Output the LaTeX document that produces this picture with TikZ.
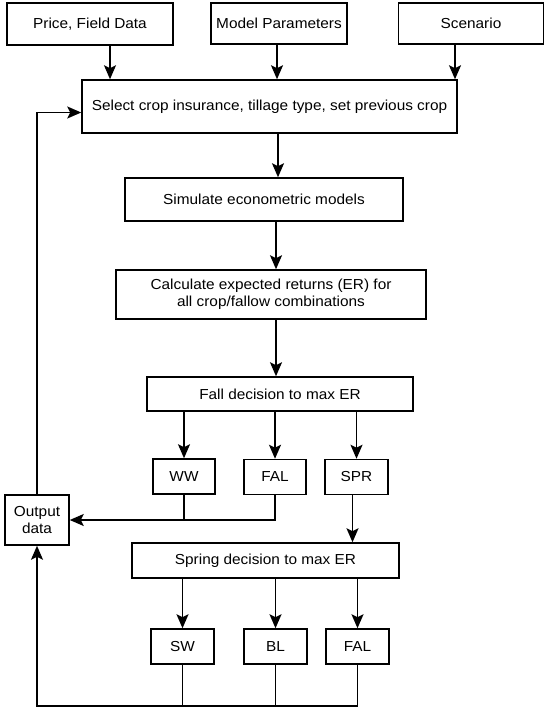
\documentclass[tikz,border=0pt]{standalone}
\usepackage{fontspec}
\setmainfont[FakeStretch=1.06]{Liberation Sans}
\usetikzlibrary{arrows.meta}

\begin{document}
\begin{tikzpicture}[x=1pt,y=-1pt,
    box/.style={draw, line width=1.5pt, inner sep=0pt, align=center, font=\fontsize{14.5}{17}\selectfont},
    arr/.style={line width=1.8pt, -{Stealth[length=14pt,width=12pt,inset=3pt]}},
    ln/.style={line width=1.4pt}]
    \useasboundingbox (0,0) rectangle (545,709);

    % inputs
    \node[box, minimum width=166pt, minimum height=42pt] (price) at (90,24) {Price, Field Data};
    \node[box, minimum width=136pt, minimum height=41pt] (model) at (279,23.5) {Model Parameters};
    \node[box, minimum width=145pt, minimum height=41pt] (scen) at (471,23.5) {Scenario};

    % main chain
    \node[box, minimum width=375pt, minimum height=53pt] (select) at (269.5,106.5) {Select crop insurance, tillage type, set previous crop};
    \node[box, minimum width=278pt, minimum height=43pt] (sim) at (264,199.5) {Simulate econometric models};
    \node[box, minimum width=310pt, minimum height=49pt] (calc) at (271,294.5) {Calculate expected returns (ER) for\\all crop/fallow combinations};
    \node[box, minimum width=266pt, minimum height=34pt] (fall) at (280,394) {Fall decision to max ER};

    \node[box, minimum width=62pt, minimum height=35pt] (ww) at (184,476.5) {WW};
    \node[box, minimum width=62pt, minimum height=35pt] (fal1) at (275,477) {FAL};
    \node[box, minimum width=63pt, minimum height=35pt] (spr) at (356.5,477) {SPR};

    \node[box, minimum width=64pt, minimum height=50pt] (out) at (37,520) {Output\\data};

    \node[box, minimum width=267pt, minimum height=35pt] (spring) at (265.5,560.5) {Spring decision to max ER};
    \node[box, minimum width=63pt, minimum height=35pt] (sw) at (182.5,646.5) {SW};
    \node[box, minimum width=63pt, minimum height=35pt] (bl) at (275.5,646.5) {BL};
    \node[box, minimum width=63pt, minimum height=35pt] (fal2) at (357.5,646.5) {FAL};

    \coordinate (bot) at (0,706);

    % arrows
    \draw[arr] ([xshift=20pt]price.south) -- ([xshift=20pt]price.south |- select.north);
    \draw[arr] ([xshift=-2pt]model.south) -- ([xshift=-2pt]model.south |- select.north);
    \draw[arr] ([xshift=-16pt]scen.south) -- ([xshift=-16pt]scen.south |- select.north);
    \draw[arr] ([xshift=8.5pt]select.south) -- ([xshift=8.5pt]select.south |- sim.north);
    \draw[arr] ([xshift=12pt]sim.south) -- ([xshift=12pt]sim.south |- calc.north);
    \draw[arr] ([xshift=5pt]calc.south) -- ([xshift=5pt]calc.south |- fall.north);

    \draw[arr] (fall.south -| ww) -- (ww.north);
    \draw[arr] (fall.south -| fal1) -- (fal1.north);
    \draw[arr] (fall.south -| spr) -- (spr.north);

    \draw[ln] (ww.south) -- (ww.south |- out.east);
    \draw[arr] (fal1.south) |- (out.east);
    \draw[arr] ([xshift=-4pt]spr.south) -- ([xshift=-4pt]spr.south |- spring.north);

    \draw[arr] (spring.south -| sw) -- (sw.north);
    \draw[arr] (spring.south -| bl) -- (bl.north);
    \draw[arr] (spring.south -| fal2) -- (fal2.north);

    % back to output and to the start
    \draw[ln] (sw.south) -- (sw.south |- bot);
    \draw[ln] (bl.south) -- (bl.south |- bot);
    \draw[arr] (fal2.south) -- (fal2.south |- bot) -| (out.south);
    \draw[arr] (out.north) |- ([yshift=-6pt]select.west);
\end{tikzpicture}
\end{document}
